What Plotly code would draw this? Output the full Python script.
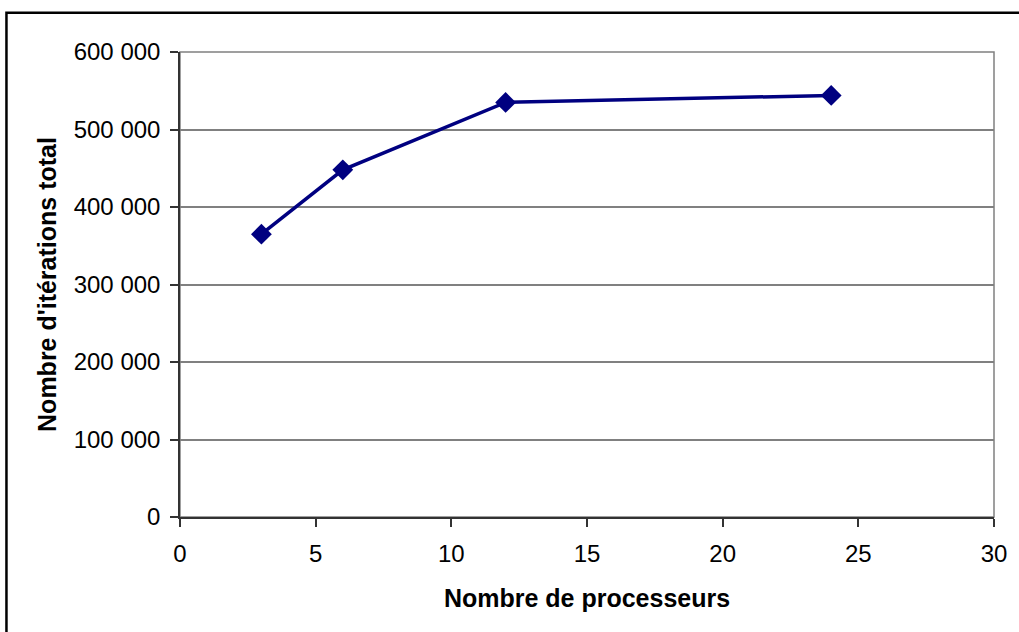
import plotly.graph_objects as go

# Total iteration count vs number of processors
processeurs = [3, 6, 12, 24]
iterations = [365000, 448000, 535000, 544000]

x_ticks = [0, 5, 10, 15, 20, 25, 30]
y_ticks = [0, 100000, 200000, 300000, 400000, 500000, 600000]
y_tick_labels = ["0", "100 000", "200 000", "300 000", "400 000", "500 000", "600 000"]

FONT = "Liberation Sans, Arial, sans-serif"
NAVY = "#000080"

fig = go.Figure(
    go.Scatter(
        x=processeurs,
        y=iterations,
        mode="lines+markers",
        line=dict(color=NAVY, width=3.5),
        marker=dict(symbol="diamond", size=16, color=NAVY),
        showlegend=False,
        hoverinfo="skip",
    )
)

fig.update_layout(
    width=1019,
    height=632,
    margin=dict(l=180, r=22, t=52, b=115),
    paper_bgcolor="white",
    plot_bgcolor="white",
    font=dict(family=FONT, size=24, color="black"),
    shapes=[
        # plot-area frame (grey on top and right)
        dict(type="rect", xref="paper", yref="paper", x0=0, x1=1, y0=0, y1=1,
             line=dict(color="#808080", width=1.5), layer="below"),
        # outer chart border
        dict(type="rect", xref="paper", yref="paper", x0=-0.2132, x1=1.2,
             y0=-0.4, y1=1.0845, line=dict(color="black", width=2.5), layer="below"),
    ],
)

fig.update_xaxes(
    range=[0, 30],
    tickvals=x_ticks,
    ticktext=[str(v) for v in x_ticks],
    ticks="outside",
    ticklen=8,
    tickwidth=1.5,
    tickcolor="#333333",
    ticklabelstandoff=6,
    showline=True,
    linecolor="#333333",
    linewidth=1.5,
    showgrid=False,
    zeroline=False,
    title=dict(text="<b>Nombre de processeurs</b>", font=dict(size=25), standoff=24),
)

fig.update_yaxes(
    range=[0, 600000],
    tickvals=y_ticks,
    ticktext=y_tick_labels,
    ticks="outside",
    ticklen=8,
    tickwidth=1.5,
    tickcolor="#333333",
    ticklabelstandoff=5,
    showline=True,
    linecolor="#333333",
    linewidth=1.5,
    showgrid=True,
    gridcolor="#808080",
    gridwidth=1.5,
    zeroline=False,
    title=dict(text="<b>Nombre d'itérations total</b>", font=dict(size=25), standoff=10),
)

fig.write_html("out.html")
